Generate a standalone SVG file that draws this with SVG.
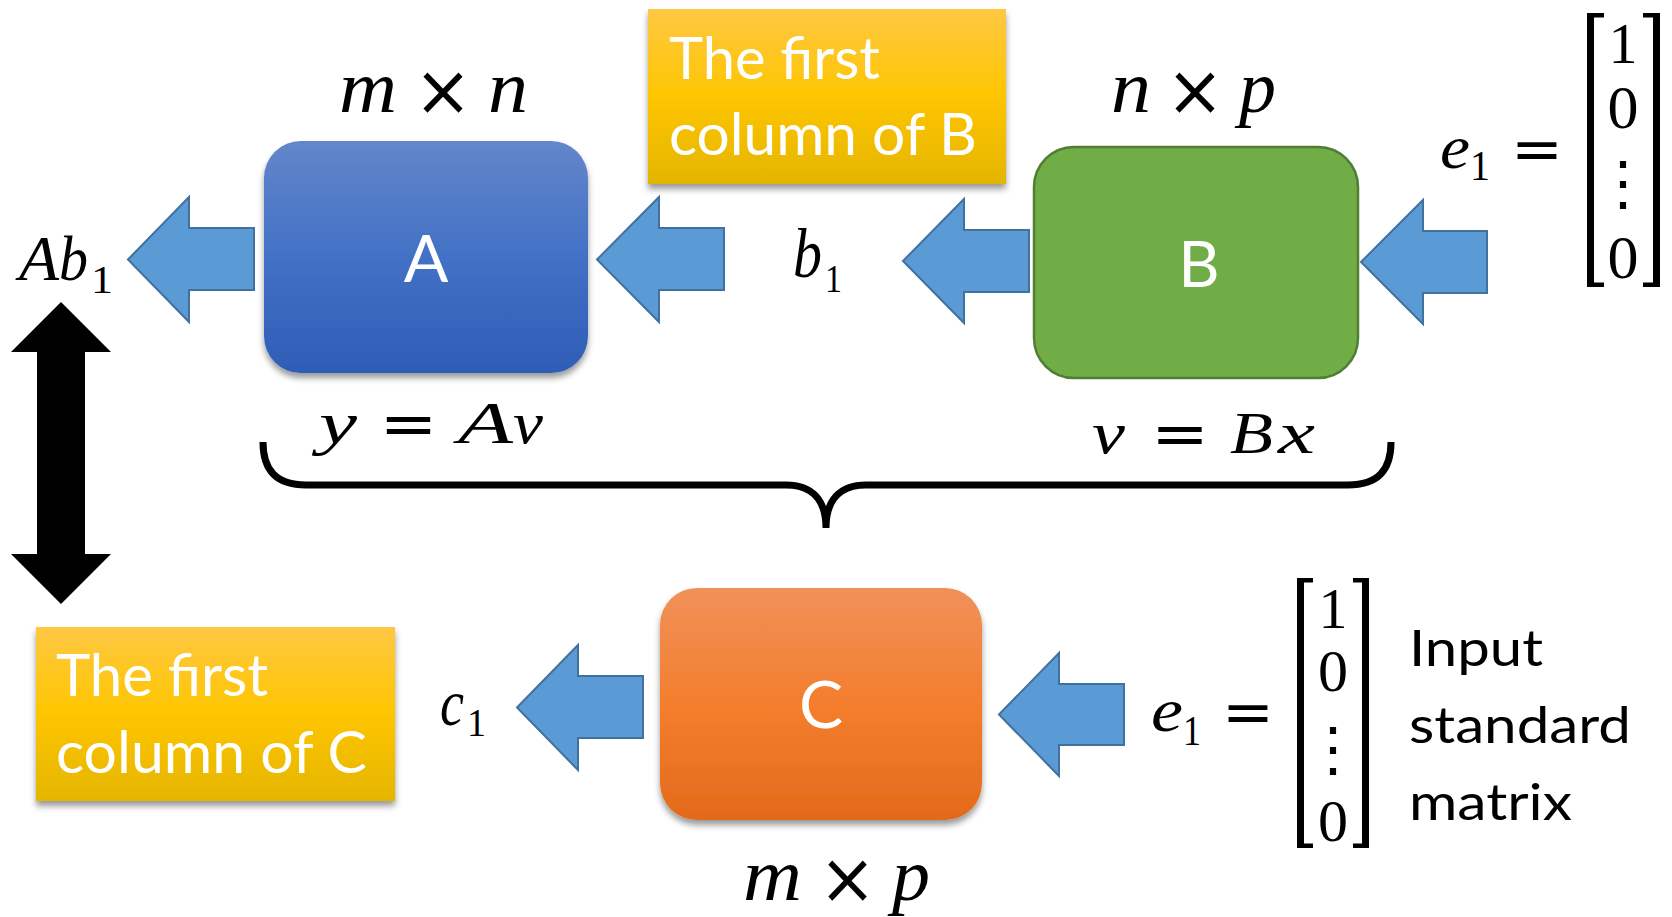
<svg xmlns="http://www.w3.org/2000/svg" width="1672" height="917" viewBox="0 0 1672 917">
<defs>
<linearGradient id="gA" x1="0" y1="0" x2="0" y2="1"><stop offset="0" stop-color="#6486CB"/><stop offset="0.5" stop-color="#4271C5"/><stop offset="1" stop-color="#2E5DB7"/></linearGradient>
<linearGradient id="gC" x1="0" y1="0" x2="0" y2="1"><stop offset="0" stop-color="#F0915A"/><stop offset="0.5" stop-color="#F47E2D"/><stop offset="1" stop-color="#E26A1B"/></linearGradient>
<linearGradient id="gY" x1="0" y1="0" x2="0" y2="1"><stop offset="0" stop-color="#FFC843"/><stop offset="0.5" stop-color="#FEC500"/><stop offset="1" stop-color="#E4B500"/></linearGradient>
<filter id="sh" x="-10%" y="-10%" width="120%" height="125%"><feDropShadow dx="0" dy="5" stdDeviation="3" flood-color="#000" flood-opacity="0.4"/></filter>
<style>
.arr{fill:#5B9BD5;stroke:#41719C;stroke-width:2;stroke-linejoin:miter}
.wt{fill:#fff;font-family:Lato,"Open Sans",sans-serif}
.bt{fill:#000;font-family:Lato,"Open Sans",sans-serif}
.mi{font-family:"Liberation Serif",serif;font-style:italic;fill:#000}
.mu{font-family:"Liberation Serif",serif;fill:#000}
.op{font-family:"DejaVu Sans",sans-serif;fill:#000;text-anchor:middle}
.dots{font-family:"DejaVu Serif",serif;fill:#000;text-anchor:middle}
.br{fill:#000}
</style>
</defs>
<rect width="1672" height="917" fill="#fff"/>

<g id="connectors">
<polygon class="arr" points="128,259.5 189,197 189,228 254,228 254,290 189,290 189,322"/>
<polygon class="arr" points="597,259.5 659,197 659,228 724,228 724,290 659,290 659,322"/>
<polygon class="arr" points="903,261 964,199 964,230 1029,230 1029,292 964,292 964,323"/>
<polygon class="arr" points="1361,262 1423,200 1423,231 1487,231 1487,293 1423,293 1423,324"/>
<polygon class="arr" points="517,707.5 578,645 578,676 643,676 643,738 578,738 578,770"/>
<polygon class="arr" points="999,714.5 1059,653 1059,684 1124,684 1124,745 1059,745 1059,776"/>
<polygon fill="#000" points="61,302 111,352 85,352 85,554 111,554 61,604 11,554 37,554 37,352 11,352"/>
<path d="M263 442 C263 470 276 485 306 485 L786 485 C812 485 826 500 826 528 C826 500 840 485 866 485 L1348 485 C1378 485 1391 470 1391 442" fill="none" stroke="#000" stroke-width="7"/>
</g>

<g id="nodeA">
<rect x="264" y="141" width="324" height="232" rx="37" fill="url(#gA)" filter="url(#sh)"/>
<text class="wt" x="426" y="282" font-size="66" text-anchor="middle">A</text>
</g>
<g id="nodeB">
<rect x="1034" y="147" width="324" height="231" rx="40" fill="#70AD47" stroke="#507E32" stroke-width="2.5"/>
<text class="wt" x="1199" y="287" font-size="64" text-anchor="middle">B</text>
</g>
<g id="nodeC">
<rect x="660" y="588" width="322" height="232" rx="37" fill="url(#gC)" filter="url(#sh)"/>
<text class="wt" x="821" y="728" font-size="66" text-anchor="middle">C</text>
</g>
<g id="labelB">
<rect x="648" y="9" width="358" height="175" fill="url(#gY)" filter="url(#sh)"/>
<text class="wt" x="669" y="79" font-size="58" textLength="211" lengthAdjust="spacingAndGlyphs">The first</text>
<text class="wt" x="669" y="155" font-size="58" textLength="308" lengthAdjust="spacingAndGlyphs">column of B</text>
</g>
<g id="labelC">
<rect x="36" y="627" width="359" height="174" fill="url(#gY)" filter="url(#sh)"/>
<text class="wt" x="56" y="696" font-size="58" textLength="212" lengthAdjust="spacingAndGlyphs">The first</text>
<text class="wt" x="56" y="773" font-size="58" textLength="311" lengthAdjust="spacingAndGlyphs">column of C</text>
</g>

<g id="dimA">
<text class="mi" x="339" y="112" font-size="74" textLength="58" lengthAdjust="spacingAndGlyphs">m</text>
<text class="op" x="443" y="115" font-size="72" textLength="58" lengthAdjust="spacingAndGlyphs">×</text>
<text class="mi" x="488" y="112" font-size="74" textLength="40" lengthAdjust="spacingAndGlyphs">n</text>
</g>
<g id="dimB">
<text class="mi" x="1111" y="112" font-size="74" textLength="40" lengthAdjust="spacingAndGlyphs">n</text>
<text class="op" x="1195" y="115" font-size="72" textLength="58" lengthAdjust="spacingAndGlyphs">×</text>
<text class="mi" x="1239" y="112" font-size="74" textLength="37" lengthAdjust="spacingAndGlyphs">p</text>
</g>
<g id="dimC">
<text class="mi" x="743" y="900" font-size="74" textLength="59" lengthAdjust="spacingAndGlyphs">m</text>
<text class="op" x="847.5" y="903" font-size="72" textLength="57" lengthAdjust="spacingAndGlyphs">×</text>
<text class="mi" x="892" y="900" font-size="74" textLength="38" lengthAdjust="spacingAndGlyphs">p</text>
</g>
<g id="outAb1">
<text class="mi" x="19" y="280" font-size="64" textLength="40" lengthAdjust="spacingAndGlyphs">A</text>
<text class="mi" x="59" y="280" font-size="64" textLength="29" lengthAdjust="spacingAndGlyphs">b</text>
<text class="mu" x="91" y="293" font-size="40" textLength="22" lengthAdjust="spacingAndGlyphs">1</text>
</g>
<g id="b1">
<text class="mi" x="793" y="277" font-size="70" textLength="29" lengthAdjust="spacingAndGlyphs">b</text>
<text class="mu" x="825" y="292" font-size="41" textLength="17" lengthAdjust="spacingAndGlyphs">1</text>
</g>
<g id="c1">
<text class="mi" x="440" y="725" font-size="65" textLength="24" lengthAdjust="spacingAndGlyphs">c</text>
<text class="mu" x="467" y="736" font-size="41" textLength="19" lengthAdjust="spacingAndGlyphs">1</text>
</g>
<g id="eqA">
<text class="mi" x="319" y="443" font-size="60" textLength="38" lengthAdjust="spacingAndGlyphs">y</text>
<text class="op" x="408.5" y="444" font-size="60" textLength="58" lengthAdjust="spacingAndGlyphs">=</text>
<text class="mi" x="458" y="443" font-size="60" textLength="55" lengthAdjust="spacingAndGlyphs">A</text>
<text class="mi" x="513" y="443" font-size="60" textLength="30" lengthAdjust="spacingAndGlyphs">v</text>
</g>
<g id="eqB">
<text class="mi" x="1092" y="453" font-size="60" textLength="33" lengthAdjust="spacingAndGlyphs">v</text>
<text class="op" x="1180" y="454" font-size="60" textLength="58" lengthAdjust="spacingAndGlyphs">=</text>
<text class="mi" x="1230" y="453" font-size="60" textLength="43" lengthAdjust="spacingAndGlyphs">B</text>
<text class="mi" x="1278" y="453" font-size="60" textLength="37" lengthAdjust="spacingAndGlyphs">x</text>
</g>
<g id="e1top">
<text class="mi" x="1440" y="168" font-size="61" textLength="30" lengthAdjust="spacingAndGlyphs">e</text>
<text class="mu" x="1470" y="180" font-size="42" textLength="20" lengthAdjust="spacingAndGlyphs">1</text>
<text class="op" x="1537" y="169" font-size="58" textLength="52" lengthAdjust="spacingAndGlyphs">=</text>
<path class="br" d="M1587 13 H1604 V17.5 H1594 V282.5 H1604 V287 H1587 Z"/>
<path class="br" d="M1660 13 H1643 V17.5 H1653 V282.5 H1643 V287 H1660 Z"/>
<text class="mu" x="1623" y="63" font-size="58" text-anchor="middle">1</text>
<text class="mu" x="1623" y="128" font-size="62" text-anchor="middle">0</text>
<text class="dots" x="1623" y="204" font-size="60">⋮</text>
<text class="mu" x="1623" y="278" font-size="62" text-anchor="middle">0</text>
</g>
<g id="e1bottom">
<text class="mi" x="1151" y="731" font-size="62" textLength="32" lengthAdjust="spacingAndGlyphs">e</text>
<text class="mu" x="1183" y="745" font-size="42" textLength="18" lengthAdjust="spacingAndGlyphs">1</text>
<text class="op" x="1248" y="732" font-size="58" textLength="52" lengthAdjust="spacingAndGlyphs">=</text>
<path class="br" d="M1297 578 H1313 V582.5 H1304 V843.5 H1313 V848 H1297 Z"/>
<path class="br" d="M1369 578 H1353 V582.5 H1362 V843.5 H1353 V848 H1369 Z"/>
<text class="mu" x="1333" y="628" font-size="58" text-anchor="middle">1</text>
<text class="mu" x="1333" y="691" font-size="60" text-anchor="middle">0</text>
<text class="dots" x="1333" y="770" font-size="60">⋮</text>
<text class="mu" x="1333" y="841" font-size="60" text-anchor="middle">0</text>
</g>
<g id="inputNote">
<text class="bt" x="1409" y="666" font-size="50" textLength="134" lengthAdjust="spacingAndGlyphs">Input</text>
<text class="bt" x="1409" y="743" font-size="50" textLength="222" lengthAdjust="spacingAndGlyphs">standard</text>
<text class="bt" x="1409" y="820" font-size="50" textLength="163" lengthAdjust="spacingAndGlyphs">matrix</text>
</g>
</svg>
